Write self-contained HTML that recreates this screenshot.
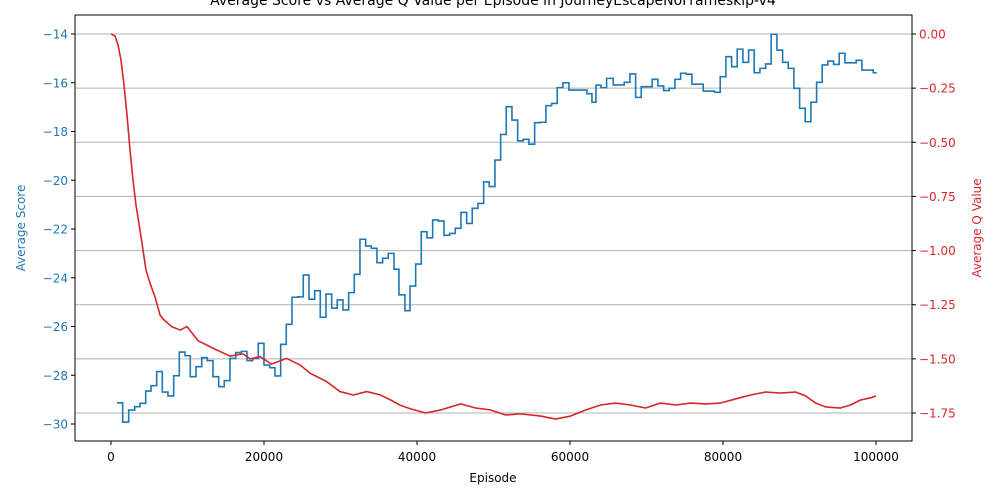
<!DOCTYPE html>
<html><head><meta charset="utf-8"><style>
html,body{margin:0;padding:0;background:#fff;}
svg{display:block;font-family:"DejaVu Sans","Liberation Sans",sans-serif;}
</style></head><body>
<svg id="chart" width="1000" height="500" viewBox="0 0 1000 500">
<text x="493" y="5" text-anchor="middle" font-size="14" fill="#000">Average Score vs Average Q Value per Episode in JourneyEscapeNoFrameskip-v4</text>
<g id="grid"></g>
<g id="series"></g>
<rect x="75" y="15" width="837" height="426" fill="none" stroke="#000" stroke-width="1"/>
<g id="axes"></g>
<text x="493" y="482" text-anchor="middle" font-size="12">Episode</text>
<text transform="translate(25,228) rotate(-90)" text-anchor="middle" font-size="12" fill="#1f77b4">Average Score</text>
<text transform="translate(981,228) rotate(-90)" text-anchor="middle" font-size="12" fill="#d62728">Average Q Value</text>
</svg>
<script>
const scoreEpisodes=[784,1529,2313,3098,3790,4535,5228,5973,6705,7450,8195,8927,9672,10365,11110,11855,12587,13331,14076,14808,15553,16298,17030,17775,18520,19252,19997,20742,21435,22180,22912,23657,24402,25134,25879,26624,27356,28101,28846,29578,30322,31067,31799,32544,33289,34021,34766,35511,36243,36988,37642,38426,39079,39824,40556,41301,42046,42778,43523,44268,45000,45745,46490,47222,47967,48712,49444,50189,50934,51666,52411,53156,53888,54633,55378,56110,56855,57600,58332,59076,59861,60645,61429,62213,62867,63390,64043,64788,65651,67089,67833,68578,69310,70748,71493,72238,72970,73715,74460,75192,75937,77414,78904,79636,80381,81126,81858,82602,83347,84079,84824,85569,86301,87046,87791,88523,89268,90013,90745,91490,92235,92967,93712,94457,95189,95934,97411,98156,99633,100000];
const scoreValues=[-29.13,-29.92,-29.43,-29.29,-29.15,-28.65,-28.43,-27.85,-28.69,-28.85,-28.02,-27.05,-27.2,-28.06,-27.65,-27.28,-27.4,-28.06,-28.47,-28.22,-27.31,-27.07,-27.02,-27.4,-27.31,-26.69,-27.58,-27.69,-28.03,-26.73,-25.91,-24.8,-24.78,-23.89,-24.88,-24.53,-25.62,-24.67,-25.25,-24.91,-25.32,-24.61,-23.86,-22.42,-22.7,-22.79,-23.38,-23.2,-23.0,-23.65,-24.7,-25.35,-24.34,-23.44,-22.11,-22.36,-21.63,-21.67,-22.26,-22.18,-21.97,-21.32,-21.77,-21.15,-20.95,-20.07,-20.26,-19.17,-18.12,-16.98,-17.53,-18.38,-18.32,-18.52,-17.64,-17.62,-16.94,-16.85,-16.2,-16.0,-16.3,-16.3,-16.3,-16.45,-16.8,-16.1,-16.2,-15.82,-16.09,-15.98,-15.64,-16.6,-16.16,-15.86,-16.13,-16.32,-16.23,-15.86,-15.61,-15.65,-16.06,-16.34,-16.39,-15.75,-14.93,-15.34,-14.62,-15.16,-14.66,-15.59,-15.41,-15.23,-14.01,-14.66,-15.16,-15.41,-16.23,-17.05,-17.6,-16.8,-15.98,-15.27,-15.11,-15.25,-14.79,-15.18,-15.08,-15.48,-15.59,-15.62];
const qEpisodes=[0,523,915,1307,1699,2091,2483,2875,3268,3790,4182,4575,5097,5751,6405,6836,7933,9030,9933,11371,13331,15553,17252,18167,19474,21003,22963,24702,26009,28191,29930,31668,33420,35246,36553,37729,39167,41127,43087,45701,47662,49622,51583,53543,56157,58117,60078,62038,63998,65958,67919,69879,71840,73800,75760,77721,79681,81642,83602,85562,87523,89483,90790,92097,93404,95364,96671,97978,99285,100000];
const qValues=[0,-0.009,-0.05,-0.12,-0.235,-0.374,-0.535,-0.674,-0.79,-0.905,-0.997,-1.09,-1.15,-1.214,-1.297,-1.317,-1.351,-1.367,-1.351,-1.416,-1.451,-1.487,-1.477,-1.5,-1.49,-1.524,-1.498,-1.528,-1.566,-1.605,-1.651,-1.667,-1.651,-1.667,-1.69,-1.713,-1.731,-1.75,-1.736,-1.708,-1.727,-1.736,-1.759,-1.754,-1.764,-1.778,-1.764,-1.736,-1.713,-1.704,-1.713,-1.727,-1.704,-1.713,-1.704,-1.708,-1.704,-1.685,-1.667,-1.653,-1.658,-1.653,-1.671,-1.704,-1.722,-1.727,-1.713,-1.69,-1.68,-1.671];
const xTicks=[0,20000,40000,60000,80000,100000];
const leftTicks=[-14,-16,-18,-20,-22,-24,-26,-28,-30];
const rightTicks=[0,-0.25,-0.5,-0.75,-1.0,-1.25,-1.5,-1.75];

const NS="http://www.w3.org/2000/svg";
const xs=v=>111+v*(876-111)/100000;
const yl=v=>34+(-14-v)*(424-34)/16;
const yr=v=>34+(-v)*(413-34)/1.75;
function mk(tag,attrs,parent){const e=document.createElementNS(NS,tag);for(const k in attrs)e.setAttribute(k,attrs[k]);parent.appendChild(e);return e;}
const grid=document.getElementById('grid'),axes=document.getElementById('axes'),series=document.getElementById('series');
rightTicks.forEach(t=>{
  const y=yr(t);
  const g=mk('line',{x1:75,x2:912,y1:y,y2:y,stroke:'#b0b0b0','stroke-width':1},grid);
  
  
  const tk=mk('line',{x1:912,x2:916,y1:y,y2:y,stroke:'#000'},axes);
  
  
  const tx=mk('text',{x:919,y:y+4.5,'font-size':12,fill:'#d62728'},axes);
  tx.textContent=t.toFixed(2).replace('-','\u2212');
  
  
});
leftTicks.forEach(t=>{
  const y=yl(t);
  const tk=mk('line',{x1:71,x2:75,y1:y,y2:y,stroke:'#000'},axes);
  
  
  const tx=mk('text',{x:68,y:y+4.5,'font-size':12,fill:'#1f77b4','text-anchor':'end'},axes);
  tx.textContent=String(t).replace('-','\u2212');
  
  
});
xTicks.forEach(t=>{
  const x=xs(t);
  const tk=mk('line',{x1:x,x2:x,y1:441,y2:445,stroke:'#000'},axes);
  
  
  const tx=mk('text',{x:x,y:461,'font-size':12,'text-anchor':'middle'},axes);
  tx.textContent=String(t);
  
  
});
let d='';
for(let i=0;i<scoreEpisodes.length;i++){
  const x=xs(scoreEpisodes[i]),y=yl(scoreValues[i]);
  if(i===0)d+='M'+x+' '+y;else d+=' H'+x+' V'+y;
}
const sp=mk('path',{d:d,fill:'none',stroke:'#1f77b4','stroke-width':1.6},series);


let dq=qEpisodes.map((e,i)=>(i?'L':'M')+xs(e)+' '+yr(qValues[i])).join(' ');
const qp=mk('path',{d:dq,fill:'none',stroke:'#d62728','stroke-width':1.6,'stroke-linejoin':'round'},series);


</script>
</body></html>
